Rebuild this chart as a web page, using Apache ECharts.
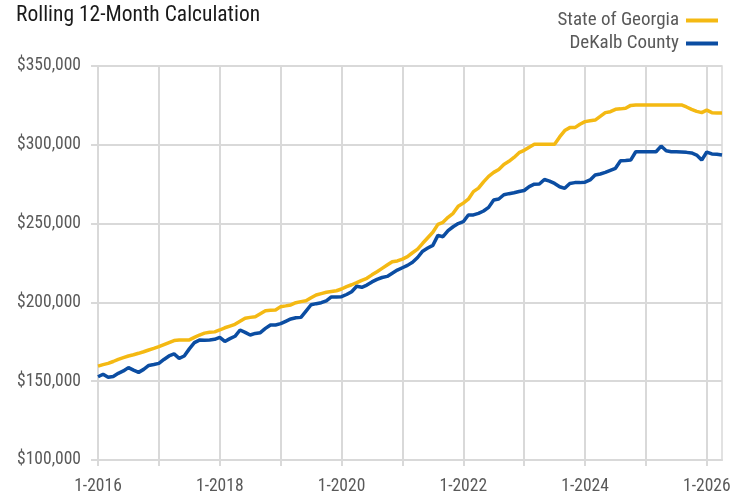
<!DOCTYPE html>
<html>
<head>
<meta charset="utf-8">
<script src="https://cdn.jsdelivr.net/npm/echarts@6/dist/echarts.min.js"></script>
<style>
html,body{margin:0;padding:0;background:#fff;}
#c{width:745px;height:493px;}
</style>
</head>
<body>
<div id="c"></div>
<script>
// Monthly categories 1-2016 .. 4-2026
var startYear = 2016, monthCount = 124;
var categories = [];
for (var i = 0; i < monthCount; i++) {
  categories.push(((i % 12) + 1) + '-' + (startYear + Math.floor(i / 12)));
}
// Values in thousands of dollars
var georgia = [
  159.6,160.5,161.3,162.5,163.9,165,166,166.8,167.7,168.7,169.8,170.8,
  171.9,173.2,174.5,175.8,176.1,176.1,176.2,177.8,179.3,180.5,181,181.3,
  182.5,183.9,185,186.1,188,189.9,190.5,190.9,192.8,194.7,195,195.2,
  197.3,197.8,198.4,199.8,200.5,201,202.9,204.7,205.6,206.4,206.9,207.4,
  208.5,210,211.2,212.5,214,215.3,217.5,219.5,221.6,223.7,225.8,226.3,
  227.5,229,231.5,233.8,237.5,241,244.5,249.5,250.8,254,256.5,261,
  263,265.5,270.3,272.5,276.5,280,282.5,284.4,287.5,289.5,292,295,
  296.5,298.5,300.3,300.3,300.3,300.3,300.3,305,309,310.9,310.9,313,
  314.7,315.3,315.7,318,320.4,321,322.5,322.8,323.2,325,325.3,325.3,
  325.3,325.3,325.3,325.3,325.3,325.3,325.3,325.3,324,322.5,321.2,320.4,
  322,320.4,320.2,320.2
];
var dekalb = [
  152.8,154.4,152.5,153,155,156.5,158.6,157,155.6,157.5,160,160.6,
  161.3,163.8,166,167.3,164.5,166,170.5,174.5,176.1,176,176.2,176.6,
  177.8,175.2,177,178.5,182.5,181,179.3,180.3,180.8,183.5,185.7,185.7,
  186.5,188,189.5,190.3,190.5,194.5,198.5,199.2,199.8,201,203.5,203.5,
  203.6,205,206.8,210.2,209.6,211,213,214.6,215.8,216.5,218.5,220.5,
  222,223.5,225.5,228.5,232.5,234.5,236.2,242.5,241.7,245.5,248,250,
  251.2,255.5,255.5,256.5,258,260.3,265,265.6,268.3,269,269.6,270.4,
  271,273.5,275,275.1,278,277,275.5,273.4,272.4,275.5,276,276,
  276.3,277.7,280.8,281.5,282.5,283.8,285.1,289.9,290,290.3,295.6,295.6,
  295.6,295.6,295.6,299.2,296.2,295.6,295.6,295.5,295.2,294.8,293.5,290.3,
  295.4,294.2,294,293.5
];
var yTicks = [100000,150000,200000,250000,300000,350000];
var seriesNames = ['State of Georgia','DeKalb County'];

var FONT = '"Roboto Condensed",Roboto,sans-serif';
var chart = echarts.init(document.getElementById('c'), null, {renderer:'canvas'});
chart.setOption({
  animation:false,
  backgroundColor:'#ffffff',
  title:{
    text:'Rolling 12-Month Calculation',
    left:11, top:0,
    textStyle:{fontFamily:FONT,fontSize:21.5,fontWeight:'normal',color:'#1a1a1a'}
  },
  legend:{
    data:seriesNames,
    orient:'vertical',
    right:22, top:6,
    align:'right',
    icon:'rect',
    itemWidth:32, itemHeight:4,
    itemGap:4,
    textStyle:{fontFamily:FONT,fontSize:19,color:'#595959',padding:[0,2,0,0]}
  },
  grid:{left:98,right:23,top:66,bottom:33,show:true,borderColor:'#d9d9d9',borderWidth:1.5,
        containLabel:false,outerBoundsMode:'none'},
  xAxis:{
    type:'category',
    data:categories,
    boundaryGap:false,
    axisLine:{show:true,lineStyle:{color:'#d9d9d9',width:2}},
    axisTick:{show:true,length:6,lineStyle:{color:'#d9d9d9',width:2},interval:function(i){return i%12===0;}},
    axisLabel:{
      interval:function(i){return i%24===0;},
      fontFamily:FONT,fontSize:17.5,color:'#595959',margin:18
    },
    splitLine:{show:true,interval:function(i){return i%12===0;},lineStyle:{color:'#d9d9d9',width:2}}
  },
  yAxis:{
    type:'value',
    min:yTicks[0], max:yTicks[yTicks.length-1], interval:50000,
    axisLine:{show:true,lineStyle:{color:'#d9d9d9',width:2}},
    axisTick:{show:true,length:7,lineStyle:{color:'#d9d9d9',width:2}},
    axisLabel:{
      fontFamily:FONT,fontSize:17.5,color:'#595959',margin:17,
      formatter:function(v){return '$'+v.toLocaleString('en-US');}
    },
    splitLine:{show:true,lineStyle:{color:'#d9d9d9',width:2}}
  },
  series:[
    {name:seriesNames[0],type:'line',data:georgia.map(function(v){return v*1000;}),
     showSymbol:false,symbol:'none',lineStyle:{width:3.5,color:'#F4B913'},itemStyle:{color:'#F4B913'},z:2},
    {name:seriesNames[1],type:'line',data:dekalb.map(function(v){return v*1000;}),
     showSymbol:false,symbol:'none',lineStyle:{width:3.5,color:'#0B4DA2'},itemStyle:{color:'#0B4DA2'},z:3}
  ]
});
</script>
</body>
</html>
